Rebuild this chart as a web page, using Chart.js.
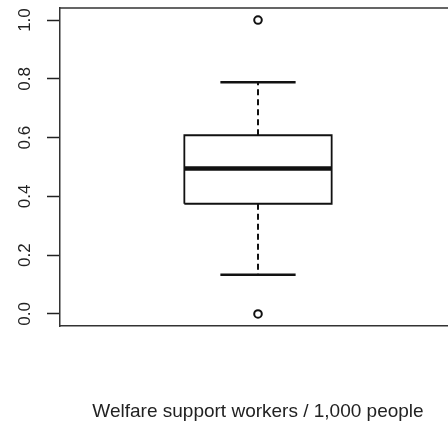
<!DOCTYPE html>
<html>
<head>
<meta charset="utf-8">
<script src="https://cdn.jsdelivr.net/npm/chart.js@4.4.1/dist/chart.umd.min.js"></script>
<style>
    html, body { margin: 0; padding: 0; background: #fff; overflow: hidden; }
    #plot-box { display: block; }
</style>
</head>
<body>
<canvas id="plot-box" width="470" height="436"></canvas>
<script>
// values
const xTitle = 'Welfare support workers / 1,000 people';
const yTicks = [0, 0.2, 0.4, 0.6, 0.8, 1.0];
const statLabels = ['Lower whisker', 'Q1', 'Median', 'Q3', 'Upper whisker'];
const statValues = [0.133, 0.375, 0.495, 0.608, 0.788];
const outlierValues = [0.0, 1.0];

const boxCenter = 1;
const boxHalf = 0.186;
const capHalf = 0.095;
const ink = '#111';

const [lo, q1, med, q3, hi] = statValues;

function segment(points, width, dash) {
    return {
        type: 'scatter',
        data: points.map(p => ({ x: p[0], y: p[1] })),
        showLine: true,
        borderColor: ink,
        borderWidth: width,
        borderDash: dash || [],
        borderJoinStyle: 'miter',
        borderCapStyle: 'butt',
        pointRadius: 0,
        fill: false
    };
}

const x0 = boxCenter - boxHalf, x1 = boxCenter + boxHalf;

const datasets = [
    segment([[boxCenter, q3], [boxCenter, hi]], 2, [6, 4]),
    segment([[boxCenter, q1], [boxCenter, lo]], 2, [6, 4]),
    segment([[boxCenter - capHalf, hi], [boxCenter + capHalf, hi]], 2.5),
    segment([[boxCenter - capHalf, lo], [boxCenter + capHalf, lo]], 2.5),
    segment([[x0, q1], [x1, q1], [x1, q3], [x0, q3], [x0, q1]], 1.8),
    segment([[x0, med], [x1, med]], 4.5),
    {
        type: 'scatter',
        data: outlierValues.map(v => ({ x: boxCenter, y: v })),
        pointStyle: 'circle',
        pointRadius: 3.8,
        borderWidth: 2,
        borderColor: ink,
        backgroundColor: '#fff',
        showLine: false
    }
];

// top and right edges of the plot frame
const frame = {
    id: 'frame',
    afterDatasetsDraw(chart) {
        const { ctx, chartArea: a } = chart;
        ctx.save();
        ctx.strokeStyle = '#333';
        ctx.lineWidth = 1.5;
        ctx.beginPath();
        ctx.moveTo(a.left, a.top);
        ctx.lineTo(a.right, a.top);
        ctx.lineTo(a.right, a.bottom);
        ctx.stroke();
        ctx.restore();
    }
};

new Chart('plot-box', {
    type: 'scatter',
    data: { datasets },
    options: {
        responsive: false,
        animation: false,
        layout: { padding: { left: 0, top: 8, right: 14, bottom: 0 } },
        plugins: { legend: { display: false }, tooltip: { enabled: false } },
        scales: {
            x: {
                type: 'linear',
                min: 0.5,
                max: 1.5,
                grid: { display: false },
                border: { display: true, color: '#333', width: 1.5 },
                ticks: { display: false },
                title: {
                    display: true,
                    text: xTitle,
                    color: '#222',
                    font: { family: 'Liberation Sans, Arial, sans-serif', size: 19 },
                    padding: { top: 0, bottom: 13 }
                },
                afterFit: s => {
                    s.height = 110;
                    s.paddingLeft = 0; s.paddingRight = 0;
                }
            },
            y: {
                type: 'linear',
                min: -0.041,
                max: 1.041,
                afterBuildTicks: axis => { axis.ticks = yTicks.map(v => ({ value: v })); },
                grid: { drawOnChartArea: false, tickLength: 13, tickColor: '#222', tickWidth: 1.5 },
                border: { display: true, color: '#333', width: 1.5 },
                ticks: {
                    minRotation: 90,
                    maxRotation: 90,
                    crossAlign: 'center',
                    padding: 10,
                    color: '#222',
                    font: { family: 'Liberation Sans, Arial, sans-serif', size: 17 },
                    callback: v => v.toFixed(1)
                },
                afterFit: s => {
                    s.width = 60;
                    s.paddingTop = 0; s.paddingBottom = 0;
                }
            }
        }
    },
    plugins: [frame]
});
</script>
</body>
</html>
